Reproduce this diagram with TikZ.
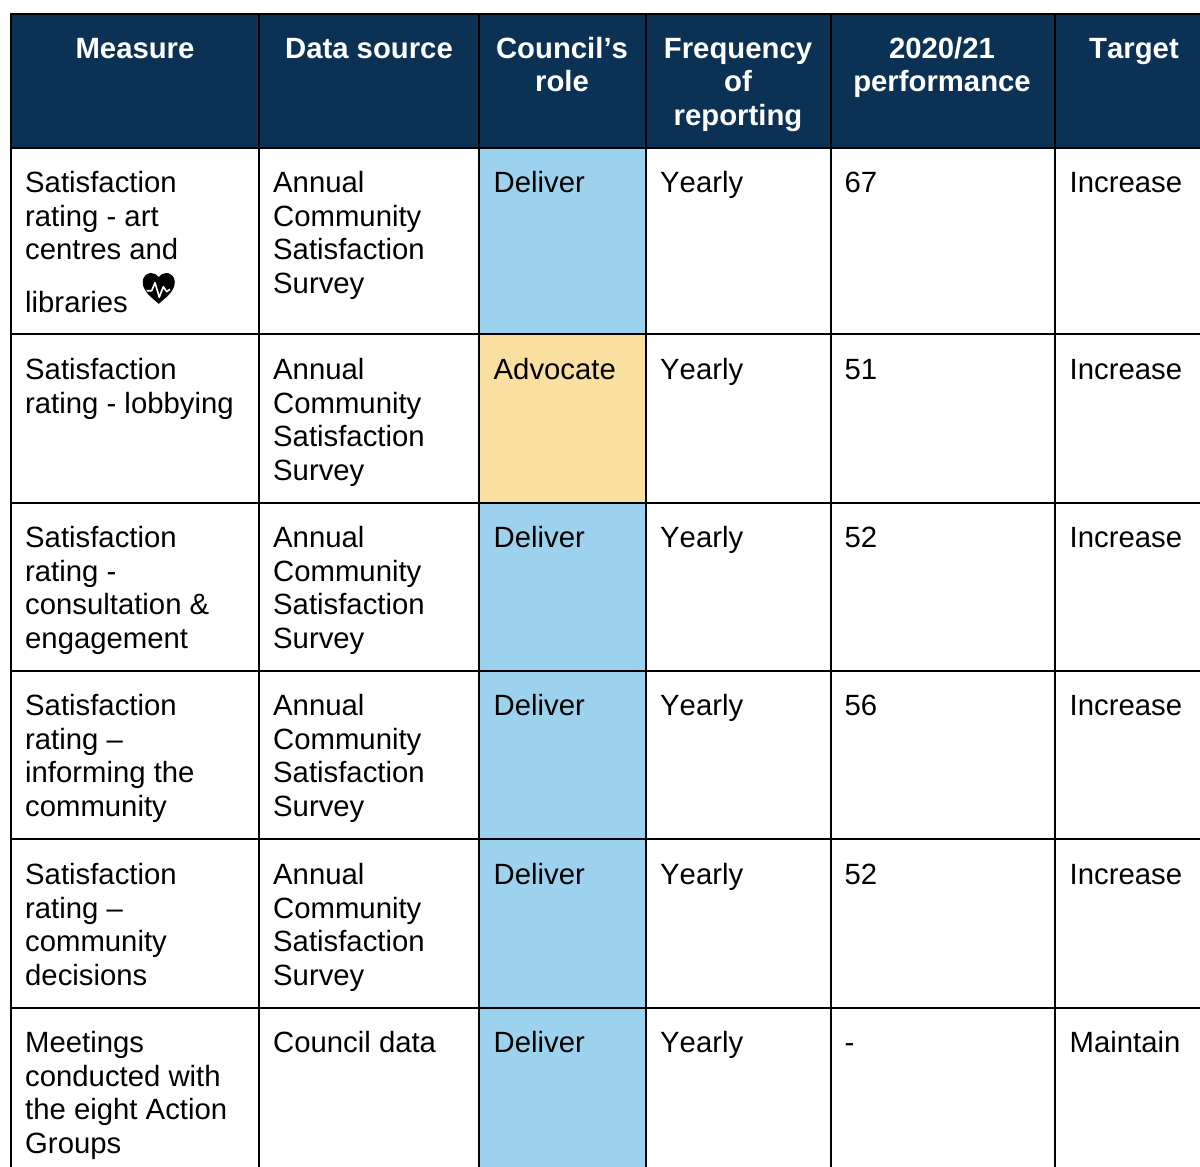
\documentclass[tikz,border=0pt]{standalone}
\usepackage{fontspec}
\setmainfont[Kerning=Off]{Liberation Sans}
\definecolor{navy}{HTML}{0B3254}
\definecolor{roleblue}{HTML}{9DD2EE}
\definecolor{roleyellow}{HTML}{FAE0A0}
\newcommand{\fl}{\rule{0pt}{24pt}}
\tikzset{
  grid/.style={draw=black,line width=2pt},
  cell/.style={anchor=north west,inner sep=0pt,align=left,font=\fontsize{29.3}{33.8}\selectfont,text=black},
  head/.style={anchor=north,inner sep=0pt,align=center,font=\fontsize{29.3}{33.4}\selectfont\bfseries,text=white},
}
\newcommand{\rowcells}[7]{%
  \node[cell] (m#2) at (25,#1-24) {\fl#3};
  \node[cell] (s#2) at (273,#1-24) {\fl#4};
  \node[cell] (r#2) at (493.5,#1-24) {\fl#5};
  \node[cell] (f#2) at (660,#1-24) {\fl Yearly};
  \node[cell] (p#2) at (844.5,#1-24) {\fl#6};
  \node[cell] (t#2) at (1069.5,#1-24) {\fl#7};
}
\newcommand{\acss}{Annual\\Community\\Satisfaction\\Survey}
\begin{document}
\begin{tikzpicture}[x=1pt,y=-1pt]
\useasboundingbox (0,0) rectangle (1200,1167);
\fill[white] (0,0) rectangle (1200,1167);
\fill[navy] (11,14) rectangle (1200,148);
\fill[roleblue] (479,148) rectangle (646,334);
\fill[roleyellow] (479,334) rectangle (646,503);
\fill[roleblue] (479,503) rectangle (646,1167);
% grid
\foreach \yy in {14,148,334,503,671,839,1008}
  \draw[grid] (10,\yy) -- (1200,\yy);
\foreach \xx in {11,259,479,646,831,1055}
  \draw[grid] (\xx,13) -- (\xx,1167);
% header
\node[head] (h1) at (135,34) {\fl Measure};
\node[head] (h2) at (369,34) {\fl Data source};
\node[head] (h3) at (562,34) {\fl Council’s\\role};
\node[head] (h4) at (738,34) {\fl Frequency\\of\\reporting};
\node[head] (h5) at (942,34) {\fl 2020/21\\performance};
\node[head] (h6) at (1134,34) {\fl Target};
% rows
\rowcells{192}{1}{Satisfaction\\rating - art\\centres and\\[18.5pt]libraries}{\acss}{Deliver}{67}{Increase}
\rowcells{379}{2}{Satisfaction\\rating - lobbying}{\acss}{Advocate}{51}{Increase}
\rowcells{547}{3}{Satisfaction\\rating -\\consultation \&\\engagement}{\acss}{Deliver}{52}{Increase}
\rowcells{715}{4}{Satisfaction\\rating –\\informing the\\community}{\acss}{Deliver}{56}{Increase}
\rowcells{884}{5}{Satisfaction\\rating –\\community\\decisions}{\acss}{Deliver}{52}{Increase}
\rowcells{1052}{6}{Meetings\\conducted with\\the eight Action\\Groups}{Council data}{Deliver}{-}{Maintain}
% heart icon
\fill[black] (158.7,303.8) .. controls (153,298.5) and (142.7,292) .. (142.7,282)
  .. controls (142.7,276.5) and (147,273) .. (151,273)
  .. controls (154.5,273) and (157,274.7) .. (158.7,277)
  .. controls (160.4,274.7) and (162.9,273) .. (166.4,273)
  .. controls (170.5,273) and (174.8,276.5) .. (174.8,282)
  .. controls (174.8,292) and (164.4,298.5) .. (158.7,303.8) -- cycle;
\draw[white,line width=1.6pt,line join=round] (146.7,290.7) -- (151.7,290.7) -- (155,282.7) -- (159.3,297.3) -- (163.3,286.7) -- (166.7,291.7) -- (170,289.3);
\end{tikzpicture}
\end{document}
